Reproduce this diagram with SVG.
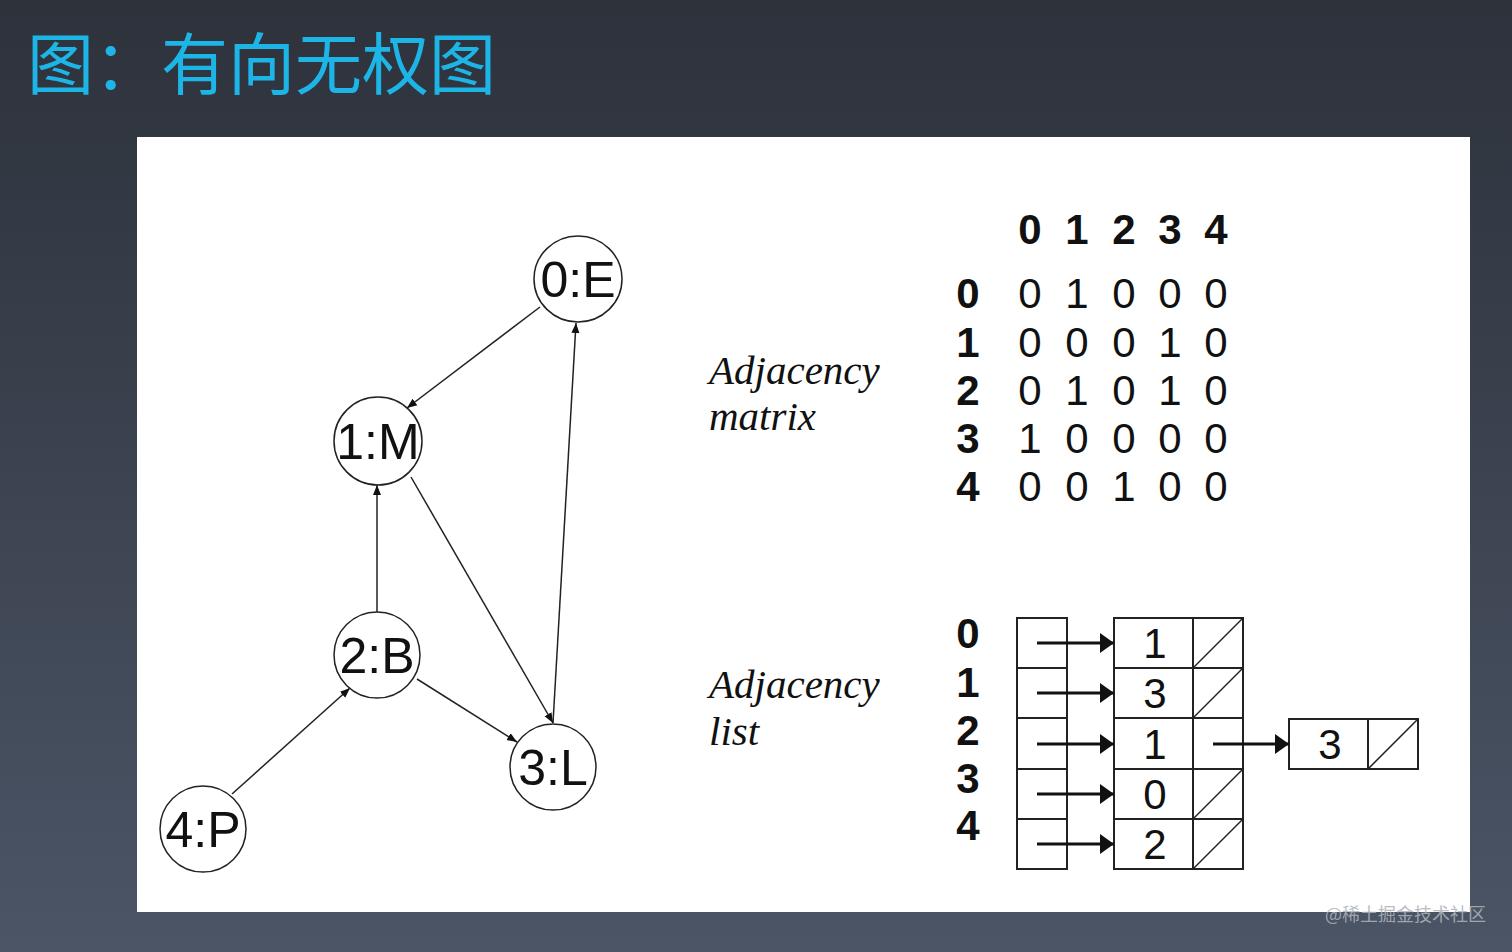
<svg xmlns="http://www.w3.org/2000/svg" width="1512" height="952" viewBox="0 0 1512 952">
<defs>
<linearGradient id="bg" x1="0" y1="0" x2="0" y2="1">
<stop offset="0" stop-color="#2d323b"/>
<stop offset="1" stop-color="#4b5566"/>
</linearGradient>
<marker id="ah" viewBox="0 0 10 10" refX="10" refY="5" markerWidth="10" markerHeight="10" markerUnits="userSpaceOnUse" orient="auto">
<path d="M0,1 L10,5 L0,9 Z" fill="#111"/>
</marker>
<marker id="bh" viewBox="0 0 14 20" refX="14" refY="10" markerWidth="14" markerHeight="20" markerUnits="userSpaceOnUse" orient="auto">
<path d="M0,0 L14,10 L0,20 Z" fill="#111"/>
</marker>
</defs>
<style>
.node ellipse{fill:#fff;stroke:#222;stroke-width:1.5}
.node text{font-family:"Liberation Sans",Arial,sans-serif;font-size:50px;fill:#111;text-anchor:middle}
.edge{stroke:#222;stroke-width:1.5;fill:none;marker-end:url(#ah)}
.lab{font-family:"Liberation Serif","Times New Roman",serif;font-style:italic;font-size:41px;fill:#111}
.hb{font-family:"Liberation Sans",Arial,sans-serif;font-weight:bold;font-size:42px;fill:#111;text-anchor:middle}
.mv{font-family:"Liberation Sans",Arial,sans-serif;font-size:42px;fill:#111;text-anchor:middle}
.cell{fill:#fff;stroke:#222;stroke-width:2}
.diag{stroke:#222;stroke-width:1.5}
.ptr{stroke:#111;stroke-width:3;fill:none;marker-end:url(#bh)}
</style>
<rect width="1512" height="952" fill="url(#bg)"/>
<text x="27" y="89" font-family="'Noto Sans CJK SC',sans-serif" font-size="67" fill="#1db4e6">图：有向无权图</text>
<rect x="137" y="137" width="1333" height="775" fill="#fff"/>

<g id="connectors">
<line class="edge" x1="540" y1="307" x2="407" y2="408"/>
<line class="edge" x1="553" y1="723" x2="576" y2="323"/>
<line class="edge" x1="377" y1="612" x2="377" y2="485"/>
<line class="edge" x1="411" y1="477" x2="553" y2="723"/>
<line class="edge" x1="417" y1="679" x2="517" y2="742"/>
<line class="edge" x1="232" y1="794" x2="350" y2="688"/>
</g>

<g id="node0" class="node"><ellipse cx="578" cy="279" rx="44" ry="43"/><text x="578" y="297">0:E</text></g>
<g id="node1" class="node"><ellipse cx="378" cy="441" rx="44" ry="44"/><text x="378" y="459">1:M</text></g>
<g id="node2" class="node"><ellipse cx="377" cy="655" rx="43" ry="43"/><text x="377" y="673">2:B</text></g>
<g id="node3" class="node"><ellipse cx="553" cy="767" rx="43" ry="43"/><text x="553" y="785">3:L</text></g>
<g id="node4" class="node"><ellipse cx="203" cy="829" rx="43" ry="43"/><text x="203" y="847">4:P</text></g>

<g id="label-matrix"><text class="lab" x="709" y="384">Adjacency</text><text class="lab" x="709" y="430">matrix</text></g>
<g id="label-list"><text class="lab" x="709" y="698">Adjacency</text><text class="lab" x="709" y="745">list</text></g>

<g id="matrix">
<text class="hb" x="1030" y="244">0</text><text class="hb" x="1077" y="244">1</text><text class="hb" x="1124" y="244">2</text><text class="hb" x="1170" y="244">3</text><text class="hb" x="1216" y="244">4</text>
<text class="hb" x="968" y="308">0</text><text class="hb" x="968" y="357">1</text><text class="hb" x="968" y="405">2</text><text class="hb" x="968" y="453">3</text><text class="hb" x="968" y="501">4</text>
<text class="mv" x="1030" y="308">0</text><text class="mv" x="1077" y="308">1</text><text class="mv" x="1124" y="308">0</text><text class="mv" x="1170" y="308">0</text><text class="mv" x="1216" y="308">0</text>
<text class="mv" x="1030" y="357">0</text><text class="mv" x="1077" y="357">0</text><text class="mv" x="1124" y="357">0</text><text class="mv" x="1170" y="357">1</text><text class="mv" x="1216" y="357">0</text>
<text class="mv" x="1030" y="405">0</text><text class="mv" x="1077" y="405">1</text><text class="mv" x="1124" y="405">0</text><text class="mv" x="1170" y="405">1</text><text class="mv" x="1216" y="405">0</text>
<text class="mv" x="1030" y="453">1</text><text class="mv" x="1077" y="453">0</text><text class="mv" x="1124" y="453">0</text><text class="mv" x="1170" y="453">0</text><text class="mv" x="1216" y="453">0</text>
<text class="mv" x="1030" y="501">0</text><text class="mv" x="1077" y="501">0</text><text class="mv" x="1124" y="501">1</text><text class="mv" x="1170" y="501">0</text><text class="mv" x="1216" y="501">0</text>
</g>

<g id="adjlist">
<text class="hb" x="968" y="648">0</text><text class="hb" x="968" y="697">1</text><text class="hb" x="968" y="745">2</text><text class="hb" x="968" y="793">3</text><text class="hb" x="968" y="840">4</text>
<rect class="cell" x="1017" y="618" width="50" height="50"/>
<rect class="cell" x="1017" y="668" width="50" height="50"/>
<rect class="cell" x="1017" y="718" width="50" height="51"/>
<rect class="cell" x="1017" y="769" width="50" height="50"/>
<rect class="cell" x="1017" y="819" width="50" height="50"/>
<rect class="cell" x="1114" y="618" width="79" height="50"/><rect class="cell" x="1193" y="618" width="50" height="50"/>
<rect class="cell" x="1114" y="668" width="79" height="50"/><rect class="cell" x="1193" y="668" width="50" height="50"/>
<rect class="cell" x="1114" y="718" width="79" height="51"/><rect class="cell" x="1193" y="718" width="50" height="51"/>
<rect class="cell" x="1114" y="769" width="79" height="50"/><rect class="cell" x="1193" y="769" width="50" height="50"/>
<rect class="cell" x="1114" y="819" width="79" height="50"/><rect class="cell" x="1193" y="819" width="50" height="50"/>
<rect class="cell" x="1289" y="719" width="79" height="50"/><rect class="cell" x="1368" y="719" width="50" height="50"/>
<line class="diag" x1="1193" y1="668" x2="1243" y2="618"/>
<line class="diag" x1="1193" y1="718" x2="1243" y2="668"/>
<line class="diag" x1="1193" y1="819" x2="1243" y2="769"/>
<line class="diag" x1="1193" y1="869" x2="1243" y2="819"/>
<line class="diag" x1="1368" y1="769" x2="1418" y2="719"/>
<text class="mv" x="1155" y="658">1</text>
<text class="mv" x="1155" y="708">3</text>
<text class="mv" x="1155" y="759">1</text>
<text class="mv" x="1155" y="809">0</text>
<text class="mv" x="1155" y="859">2</text>
<text class="mv" x="1330" y="759">3</text>
<line class="ptr" x1="1037" y1="643" x2="1114" y2="643"/>
<line class="ptr" x1="1037" y1="693" x2="1114" y2="693"/>
<line class="ptr" x1="1037" y1="744" x2="1114" y2="744"/>
<line class="ptr" x1="1037" y1="794" x2="1114" y2="794"/>
<line class="ptr" x1="1037" y1="844" x2="1114" y2="844"/>
<line class="ptr" x1="1213" y1="744" x2="1289" y2="744"/>
</g>
<text x="1325" y="921" font-family="'Noto Sans CJK SC',sans-serif" font-size="18" fill="#aeb3ba" opacity="0.85">@稀土掘金技术社区</text>
</svg>
